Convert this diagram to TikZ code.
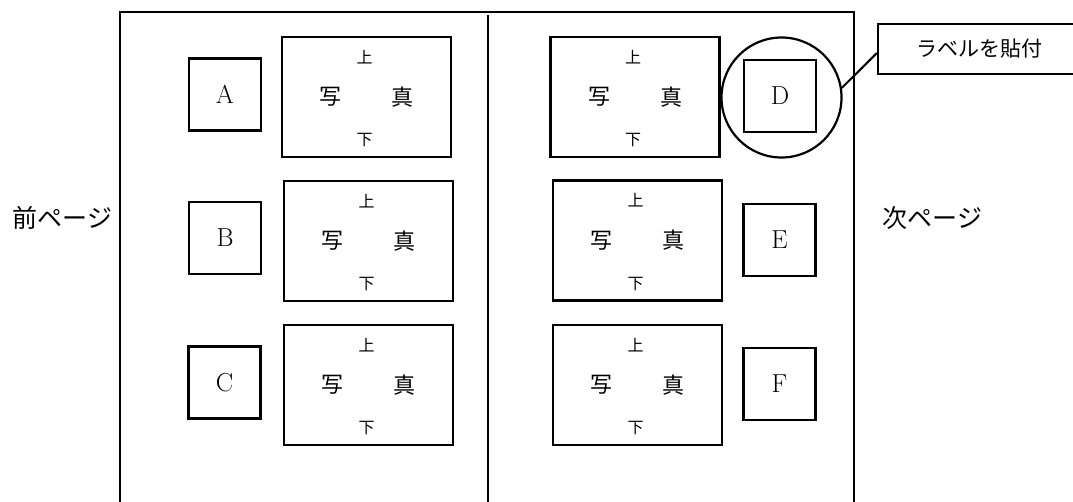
\documentclass[tikz,border=0pt]{standalone}
\usepackage{fontspec}
\newfontfamily\jp{Noto Sans CJK JP}
\newcommand\photobox[3]{%
  \node[photo] (#1) at (#2,#3) {};
  \node[small] (#1u) at ([xshift=-2pt,yshift=40pt]#1.center) {上};
  \node[big] (#1s) at ([xshift=-36pt]#1.center) {写};
  \node[big] (#1m) at ([xshift=36pt]#1.center) {真};
  \node[small] (#1d) at ([xshift=-2pt,yshift=-43pt]#1.center) {下};
}
\begin{document}
\begin{tikzpicture}[x=1pt,y=-1pt,
  frame/.style={line width=1.8pt},
  photo/.style={draw,line width=2.2pt,minimum width=169pt,minimum height=120pt,inner sep=0pt},
  tag/.style={draw,line width=2.2pt,minimum size=72pt,inner sep=0pt,font=\fontsize{26}{30}\selectfont},
  small/.style={font=\jp\fontsize{16}{18}\selectfont,inner sep=0pt},
  big/.style={font=\jp\fontsize{22}{24}\selectfont,inner sep=0pt},
  page/.style={font=\jp\fontsize{25}{28}\selectfont,inner sep=0pt}]
\useasboundingbox (0,0) rectangle (1073,501);
% frame
\coordinate (tl) at (120,12);
\coordinate (tr) at (854,12);
\coordinate (bl) at (120,503);
\coordinate (br) at (854,503);
\draw[frame] (bl) -- (tl) -- (tr) -- (br);
\coordinate (mt) at (488,15);
\coordinate (mb) at (488,503);
\draw[line width=1.4pt] (mt) -- (mb);
% photos
\photobox{p1}{366.5}{97}
\photobox{p2}{368.5}{241}
\photobox{p3}{368.5}{385}
\photobox{p4}{635}{97}
\photobox{p5}{637.5}{240.5}
\photobox{p6}{637.5}{385}
% tags
\node[tag] (A) at (225,94.5) {A};
\node[tag] (B) at (225,238) {B};
\node[tag] (C) at (224.5,382.5) {C};
\node[tag] (D) at (780,96) {D};
\node[tag] (E) at (779.5,240) {E};
\node[tag] (F) at (779.5,384) {F};
% callout
\node[draw,circle,line width=2.2pt,minimum size=120pt,inner sep=0pt] (circ) at (781.5,97.5) {};
\node[draw,line width=2.2pt,minimum width=203pt,minimum height=50pt,inner sep=0pt,font=\jp\fontsize{21}{23}\selectfont] (lbl) at (979.5,49) {ラベルを貼付};
\draw[line width=2pt] (circ.9) -- ([yshift=-4pt]lbl.west);
% page labels
\node[page] (prev) at (62.5,218) {前ページ};
\node[page] (next) at (932.5,218) {次ページ};
\end{tikzpicture}
\end{document}
